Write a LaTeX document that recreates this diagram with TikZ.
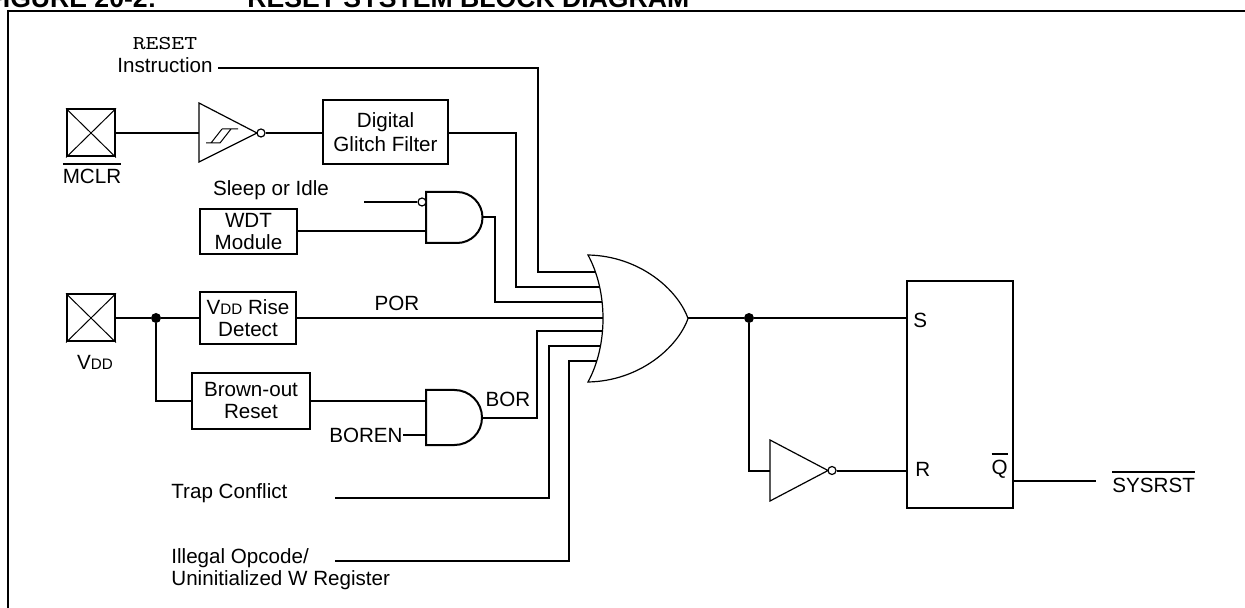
\documentclass[tikz,border=0pt]{standalone}
\usepackage{fontspec}
\setmainfont{Liberation Sans}
\newfontfamily\rstfont[FakeStretch=1.25]{lmmono10-regular.otf}
\newcommand{\lblfont}{\fontsize{10.3}{11}\selectfont}
\newcommand{\subdd}{{\fontsize{7.6}{9}\selectfont DD}}
\newcommand{\ovl}[1]{\vbox{\hrule height 0.9pt\kern 2.4pt\hbox{#1}}}
\begin{document}
\begin{tikzpicture}[x=0.5pt,y=-0.5pt,
  wire/.style={line width=1pt},
  thingate/.style={line width=0.6pt},
  andgate/.style={line width=1pt},
  blk/.style={draw,line width=1pt,align=center,inner sep=0pt,font=\lblfont},
  pad/.style={draw,line width=1pt,inner sep=0pt,minimum width=24pt,minimum height=23.5pt},
  lbl/.style={inner sep=0pt,font=\lblfont},
  ttl/.style={inner sep=0pt,font=\fontsize{13.3}{16}\selectfont\bfseries},
  jdot/.style={circle,fill,inner sep=0pt,minimum size=5pt},
  bubble/.style={circle,draw,line width=0.6pt,inner sep=0pt,minimum size=4pt,fill=white},
]
\useasboundingbox (0,0) rectangle (1245,608);

% title (cut off at the top) and frame
\node[ttl,anchor=base east] (fig) at (157,8) {FIGURE 20-2:};
\node[ttl,anchor=base west] (title) at (247,8) {RESET SYSTEM BLOCK DIAGRAM};
\draw[line width=1pt] (8,620) -- (8,11) -- (1260,11);

% ---------- OR gate ----------
\draw[thingate] (588,255) .. controls (640,256) and (678,290) .. (688,318.5)
  .. controls (678,347) and (640,381) .. (588,382)
  .. controls (608,345) and (608,292) .. (588,255) -- cycle;
\coordinate (or1) at (596,272);
\coordinate (or2) at (600,287);
\coordinate (or3) at (602,302);
\coordinate (or4) at (603,318);
\coordinate (or5) at (602.7,331);
\coordinate (or6) at (600.6,346);
\coordinate (or7) at (597,361);
\coordinate (oro) at (688,318);

% ---------- RESET instruction ----------
\node[inner sep=0pt,font=\rstfont\fontsize{9.8}{12}\selectfont] (rst) at (165,44) {RESET};
\node[lbl] (instr) at (165,65) {Instruction};
\coordinate (instrS) at (218,68);
\coordinate (c1) at (538,272);
\draw[wire] (instrS) -| (c1) -- (or1);

% ---------- MCLR path ----------
\node[pad] (mclrpad) at (91,133) {};
\draw[line width=0.5pt] (mclrpad.north west) -- (mclrpad.south east)
  (mclrpad.north east) -- (mclrpad.south west);
\node[lbl,anchor=base] (mclr) at (92,184) {\ovl{MCLR}};
\coordinate (bufin) at (199,133);
\draw[thingate] (199,103) -- (257,133) -- (199,162) -- cycle;
\draw[line width=0.5pt] (206,143) -- (220,143) (211,143) -- (222,129)
  (220,143) -- (231,129) (222,129) -- (238,129);
\node[bubble] (bufb) at (261,133) {};
\node[blk,minimum width=62.5pt,minimum height=32pt] (dgf) at (385.5,132) {Digital\\[1pt]Glitch Filter};
\draw[wire] (mclrpad.east) -- (bufin);
\draw[wire] (bufb.east) -- (dgf.west |- bufb);
\coordinate (c2) at (516,287);
\draw[wire] (dgf.east |- bufb) -| (c2) -- (or2);

% ---------- WDT ----------
\node[lbl] (sleep) at (271,190) {Sleep or Idle};
\node[blk,minimum width=48.5pt,minimum height=22.5pt] (wdt) at (248.5,231.5) {WDT\\Module};
\draw[andgate] (426,192) -- (457,192) arc[start angle=-90,end angle=90,radius=25.5] -- (426,243) -- cycle;
\node[bubble] (sleepb) at (422,202) {};
\coordinate (sleepS) at (364,202);
\coordinate (and1b) at (426,231.5);
\coordinate (and1o) at (482.5,217.5);
\coordinate (c3) at (495,302);
\draw[wire] (sleepS) -- (sleepb.west);
\draw[wire] (wdt.east) -- (and1b);
\draw[wire] (and1o) -| (c3) -- (or3);

% ---------- VDD ----------
\node[pad] (vddpad) at (91,318) {};
\draw[line width=0.5pt] (vddpad.north west) -- (vddpad.south east)
  (vddpad.north east) -- (vddpad.south west);
\node[lbl,anchor=base] (vdd) at (95,370) {V\subdd};
\node[jdot] (j1) at (156,318) {};
\node[blk,minimum width=48pt,minimum height=26pt] (vrise) at (248,318) {V\subdd{} Rise\\Detect};
\node[blk,minimum width=59pt,minimum height=27.5pt] (bo) at (251,401) {Brown-out\\Reset};
\draw[wire] (vddpad.east) -- (j1) -- (vrise.west);
\draw[wire] (j1) |- (bo.west);
\draw[wire] (vrise.east) -- (or4);
\node[lbl] (por) at (397,303) {POR};

% ---------- BOR AND gate ----------
\draw[andgate] (426,390) -- (454.5,390) arc[start angle=-90,end angle=90,radius=27.5] -- (426,445) -- cycle;
\coordinate (and2a) at (426,401);
\coordinate (and2b) at (426,435);
\coordinate (and2o) at (482,417.5);
\node[lbl,anchor=east] (boren) at (403,435) {BOREN};
\draw[wire] (bo.east) -- (and2a);
\draw[wire] (boren.east) -- (and2b);
\coordinate (c5) at (537,331);
\draw[wire] (and2o) -| (c5) -- (or5);
\node[lbl] (borl) at (508,399) {BOR};

% ---------- Trap / illegal opcode ----------
\node[lbl,anchor=west] (trap) at (171,493) {Trap Conflict};
\coordinate (trapS) at (335,498);
\coordinate (c6) at (549,346);
\draw[wire] (trapS) -| (c6) -- (or6);
\node[lbl,anchor=west,align=left] (ill) at (171,569) {Illegal Opcode/\\Uninitialized W Register};
\coordinate (illS) at (335,561);
\coordinate (c7) at (569,361);
\draw[wire] (illS) -| (c7) -- (or7);

% ---------- SR latch ----------
\node[draw,line width=1pt,minimum width=53pt,minimum height=113.5pt,inner sep=0pt] (ff) at (960,394.5) {};
\node[jdot] (j2) at (749,318) {};
\draw[wire] (oro) -- (j2) -- (ff.west |- j2);
\node[lbl,anchor=base west] (s) at (913,328) {S};
\draw[thingate] (770,440) -- (828,470.5) -- (770,501) -- cycle;
\coordinate (invin) at (770,470.5);
\node[bubble] (invb) at (832,470.5) {};
\draw[wire] (j2) |- (invin);
\draw[wire] (invb.east) -- (ff.west |- invb);
\node[lbl,anchor=base west] (r) at (915,476) {R};
\node[lbl,anchor=base east] (qb) at (1008,474) {\ovl{Q}};
\coordinate (sysE) at (1096,481);
\draw[wire] (ff.east |- sysE) -- (sysE);
\node[lbl,anchor=base west] (sysrst) at (1112,492) {\ovl{SYSRST}};
\end{tikzpicture}
\end{document}
